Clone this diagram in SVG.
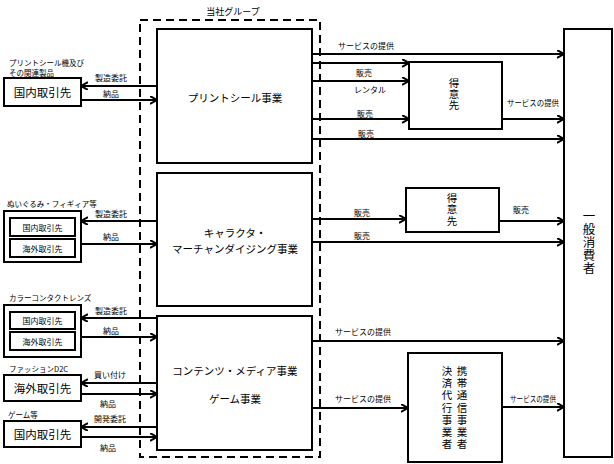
<svg xmlns="http://www.w3.org/2000/svg" width="614" height="464" viewBox="0 0 614 464">
<style>
text{font-family:"Noto Sans CJK JP","Noto Sans CJK SC",sans-serif;fill:#000;dominant-baseline:central}
.box{fill:#fff;stroke:#000;stroke-width:2}
.lbl{font-size:8px;text-anchor:middle}
.grp{font-size:7.5px}
.big{font-size:10.5px;text-anchor:middle}
.ext{font-size:11.5px;text-anchor:middle}
.sm{font-size:8px;text-anchor:middle}
.vt{font-size:10.5px;text-anchor:middle;writing-mode:vertical-rl}
.ln{stroke:#000;stroke-width:2;fill:none;marker-end:url(#ah)}
</style>
<defs>
<marker id="ah" markerUnits="userSpaceOnUse" markerWidth="10" markerHeight="10" refX="7" refY="4" orient="auto">
<path d="M0,0 L7,4 L0,8" fill="none" stroke="#000" stroke-width="2"/>
</marker>
</defs>
<rect width="614" height="464" fill="#fff"/>

<g id="group-border">
<rect x="140" y="20" width="180" height="437" fill="none" stroke="#000" stroke-width="2" stroke-dasharray="8,5"/>
<text x="233" y="11" style="font-size:9px;text-anchor:middle">当社グループ</text>
</g>

<g id="connectors">
<line class="ln" x1="157" y1="86" x2="81" y2="86"/>
<line class="ln" x1="81" y1="100" x2="157" y2="100"/>
<line class="ln" x1="157" y1="221" x2="81" y2="221"/>
<line class="ln" x1="81" y1="244" x2="157" y2="244"/>
<line class="ln" x1="157" y1="318" x2="81" y2="318"/>
<line class="ln" x1="81" y1="337" x2="157" y2="337"/>
<line class="ln" x1="157" y1="383" x2="81" y2="383"/>
<line class="ln" x1="81" y1="394" x2="157" y2="394"/>
<line class="ln" x1="157" y1="427" x2="81" y2="427"/>
<line class="ln" x1="81" y1="437" x2="157" y2="437"/>
<text class="lbl" x="111" y="77">製造委託</text>
<text class="lbl" x="111" y="93">納品</text>
<text class="lbl" x="111" y="213">製造委託</text>
<text class="lbl" x="111" y="236">納品</text>
<text class="lbl" x="111" y="310">製造委託</text>
<text class="lbl" x="111" y="330">納品</text>
<text class="lbl" x="110" y="374">買い付け</text>
<text class="lbl" x="108" y="403">納品</text>
<text class="lbl" x="110" y="418">開発委託</text>
<text class="lbl" x="108" y="447">納品</text>
<line class="ln" x1="312" y1="54" x2="564" y2="54"/>
<line class="ln" x1="312" y1="63" x2="409" y2="63"/>
<line class="ln" x1="312" y1="81" x2="409" y2="81"/>
<line class="ln" x1="312" y1="119" x2="409" y2="119"/>
<line class="ln" x1="312" y1="139" x2="564" y2="139"/>
<line class="ln" x1="502" y1="119" x2="564" y2="119"/>
<text class="lbl" x="366" y="45">サービスの提供</text>
<text class="lbl" x="364" y="72">販売</text>
<text class="lbl" x="370" y="89">レンタル</text>
<text class="lbl" x="365" y="113">販売</text>
<text class="lbl" x="366" y="133">販売</text>
<text class="lbl" x="533" y="102" textLength="52" lengthAdjust="spacingAndGlyphs">サービスの提供</text>
<line class="ln" x1="312" y1="219" x2="406" y2="219"/>
<line class="ln" x1="312" y1="242" x2="564" y2="242"/>
<line class="ln" x1="499" y1="221" x2="564" y2="221"/>
<text class="lbl" x="362" y="212">販売</text>
<text class="lbl" x="362" y="235">販売</text>
<text class="lbl" x="521" y="209">販売</text>
<line class="ln" x1="312" y1="341" x2="564" y2="341"/>
<line class="ln" x1="312" y1="408" x2="408" y2="408"/>
<line class="ln" x1="502" y1="407" x2="564" y2="407"/>
<text class="lbl" x="363" y="331">サービスの提供</text>
<text class="lbl" x="363" y="398">サービスの提供</text>
<text class="lbl" x="533" y="398" textLength="46" lengthAdjust="spacingAndGlyphs">サービスの提供</text>
</g>

<g id="print-sticker">
<rect class="box" x="157" y="29" width="155" height="134"/>
<text class="big" x="235" y="97">プリントシール事業</text>
</g>
<g id="character-md">
<rect class="box" x="157" y="173" width="155" height="133"/>
<text class="big" x="235" y="232">キャラクタ・</text>
<text class="big" x="235" y="248">マーチャンダイジング事業</text>
</g>
<g id="contents-media">
<rect class="box" x="157" y="316" width="155" height="134"/>
<text class="big" x="235" y="370">コンテンツ・メディア事業</text>
<text class="big" x="235" y="398">ゲーム事業</text>
</g>

<g id="consumer">
<rect class="box" x="564" y="29" width="48" height="428"/>
<text class="vt" x="589" y="242" style="font-size:12.5px;letter-spacing:0.5px">一般消費者</text>
</g>

<g id="customer1">
<rect class="box" x="409" y="62" width="93" height="67"/>
<text class="vt" x="454" y="94" style="letter-spacing:0.5px">得意先</text>
</g>
<g id="customer2">
<rect class="box" x="406" y="188" width="93" height="44"/>
<text class="vt" x="452" y="210" style="letter-spacing:1px">得意先</text>
</g>
<g id="carrier">
<rect class="box" x="408" y="353" width="94" height="109"/>
<text class="vt" x="462" y="408.5" style="letter-spacing:1.7px">携帯通信事業者</text>
<text class="vt" x="447" y="408.5" style="letter-spacing:1.7px">決済代行事業者</text>
</g>

<g id="partner-print">
<text class="grp" x="9" y="62">プリントシール機及び</text>
<text class="grp" x="9" y="72">その関連製品</text>
<rect class="box" x="4" y="78" width="77" height="28"/>
<text class="ext" x="42.5" y="92">国内取引先</text>
</g>
<g id="partner-plush">
<text class="grp" x="7" y="203">ぬいぐるみ・フィギィア等</text>
<rect class="box" x="4" y="211" width="77" height="51"/>
<rect class="box" x="10" y="218" width="65" height="18"/>
<text class="sm" x="42.5" y="227">国内取引先</text>
<rect class="box" x="10" y="239" width="65" height="18"/>
<text class="sm" x="42.5" y="248">海外取引先</text>
</g>
<g id="partner-lens">
<text class="grp" x="9" y="297">カラーコンタクトレンズ</text>
<rect class="box" x="4" y="305" width="77" height="52"/>
<rect class="box" x="10" y="312" width="65" height="17"/>
<text class="sm" x="42.5" y="320.5">国内取引先</text>
<rect class="box" x="10" y="332" width="65" height="18"/>
<text class="sm" x="42.5" y="341">海外取引先</text>
</g>
<g id="partner-fashion">
<text class="grp" x="9" y="368">ファッションD2C</text>
<rect class="box" x="4" y="375" width="77" height="26"/>
<text class="ext" x="42.5" y="388">海外取引先</text>
</g>
<g id="partner-game">
<text class="grp" x="8" y="414">ゲーム等</text>
<rect class="box" x="4" y="421" width="77" height="26"/>
<text class="ext" x="42.5" y="434">国内取引先</text>
</g>
</svg>
